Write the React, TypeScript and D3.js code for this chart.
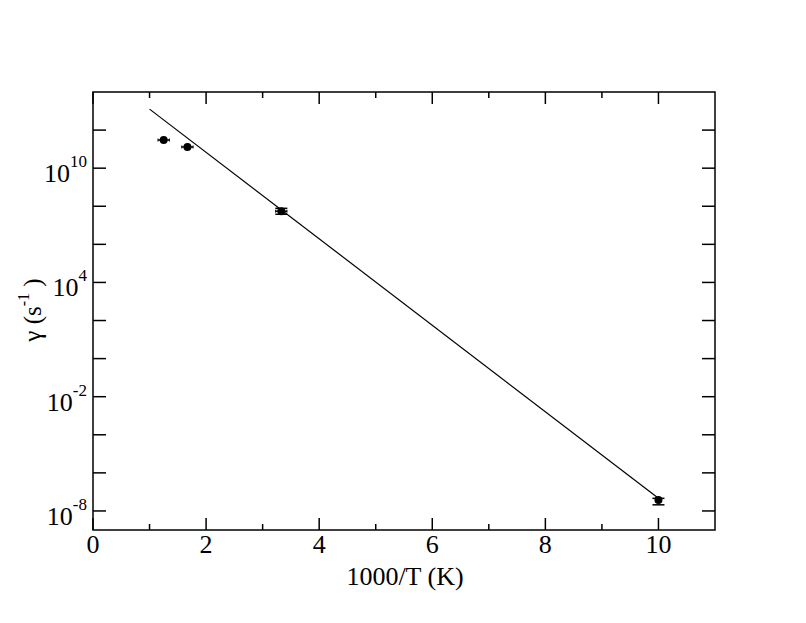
import React from "react";
import * as d3 from "d3";

const pointX = [1.25, 1.67, 3.33, 10];
const pointY = [3.0e11, 1.3e11, 5.5e7, 3.8e-8];
const xErr = [0.1, 0.1, 0.1, 0];
const yLow = [3.0e11, 1.3e11, 3.8e7, 2.1e-8];
const yHigh = [3.0e11, 1.3e11, 7.8e7, 4.6e-8];

const fitX = [1, 10];
const fitY = [1.26e13, 4.7e-8];

const xMajor = [0, 2, 4, 6, 8, 10];
const xMinor = [1, 3, 5, 7, 9];
const yTickExp = [-8, -6, -4, -2, 0, 2, 4, 6, 8, 10, 12];
const yLabelExp = [-8, -2, 4, 10];

const W = 806, H = 623;
const L = 93, R = 715, T = 92, B = 530;

export default function App() {
  const x = d3.scaleLinear().domain([0, 11]).range([L, R]);
  const y = d3.scaleLog().domain([1e-9, 1e14]).range([B, T]);
  const line = d3.line<number>().x((_, i) => x(fitX[i])).y((_, i) => y(fitY[i]));
  const ff = { fontFamily: '"Liberation Serif"' };
  return (
    <svg width={W} height={H} style={{ position: "absolute", left: 0, top: 0, background: "#fff" }}>
      <rect x={0} y={0} width={W} height={H} fill="#fff" />
      <path d={line(fitX) || ""} fill="none" stroke="#000" strokeWidth={1.2} />
      {pointX.map((px, i) => {
        const cx = x(px), cy = y(pointY[i]);
        const els: React.ReactNode[] = [];
        if (xErr[i] > 0) {
          const x0 = x(px - xErr[i]), x1 = x(px + xErr[i]);
          els.push(<line key="h" x1={x0} x2={x1} y1={cy} y2={cy} stroke="#000" strokeWidth={1.5} />);
          els.push(<line key="hc0" x1={x0} x2={x0} y1={cy - 1.5} y2={cy + 1.5} stroke="#000" strokeWidth={1} />);
          els.push(<line key="hc1" x1={x1} x2={x1} y1={cy - 1.5} y2={cy + 1.5} stroke="#000" strokeWidth={1} />);
        }
        if (yLow[i] !== pointY[i] || yHigh[i] !== pointY[i]) {
          const y0 = y(yLow[i]), y1 = y(yHigh[i]);
          els.push(<line key="v" x1={cx} x2={cx} y1={y0} y2={y1} stroke="#000" strokeWidth={1.5} />);
          els.push(<line key="vc0" x1={cx - 6} x2={cx + 6} y1={y0} y2={y0} stroke="#000" strokeWidth={1.5} />);
          els.push(<line key="vc1" x1={cx - 6} x2={cx + 6} y1={y1} y2={y1} stroke="#000" strokeWidth={1.5} />);
        }
        els.push(<circle key="c" cx={cx} cy={cy} r={4} fill="#000" />);
        return <g key={i}>{els}</g>;
      })}
      <rect x={L} y={T} width={R - L} height={B - T} fill="none" stroke="#000" strokeWidth={1.5} />
      {xMajor.map((v) => (
        <g key={"xM" + v}>
          <line x1={x(v)} x2={x(v)} y1={B} y2={B - 12} stroke="#000" strokeWidth={1.5} />
          <line x1={x(v)} x2={x(v)} y1={T} y2={T + 12} stroke="#000" strokeWidth={1.5} />
          <text x={x(v)} y={553} fontSize={26} textAnchor="middle" style={ff}>{v}</text>
        </g>
      ))}
      {xMinor.map((v) => (
        <g key={"xm" + v}>
          <line x1={x(v)} x2={x(v)} y1={B} y2={B - 6} stroke="#000" strokeWidth={1.5} />
          <line x1={x(v)} x2={x(v)} y1={T} y2={T + 6} stroke="#000" strokeWidth={1.5} />
        </g>
      ))}
      {yTickExp.map((e) => {
        const yy = y(Math.pow(10, e));
        return (
          <g key={"y" + e}>
            <line x1={L} x2={L + 13} y1={yy} y2={yy} stroke="#000" strokeWidth={1.5} />
            <line x1={R} x2={R - 13} y1={yy} y2={yy} stroke="#000" strokeWidth={1.5} />
          </g>
        );
      })}
      {yLabelExp.map((e) => {
        const yy = y(Math.pow(10, e));
        return (
          <text key={"yl" + e} x={87} y={yy + 14} fontSize={26} textAnchor="end" style={ff}>
            10<tspan fontSize={17} dy={-15}>{e}</tspan>
          </text>
        );
      })}
      <text x={405} y={585} fontSize={26} textAnchor="middle" style={ff}>1000/T (K)</text>
      <text transform={`translate(41, 310) rotate(-90)`} fontSize={25} textAnchor="middle" style={ff}>
        γ (s<tspan fontSize={16} dy={-12}>-1</tspan><tspan dy={12}> )</tspan>
      </text>
    </svg>
  );
}
